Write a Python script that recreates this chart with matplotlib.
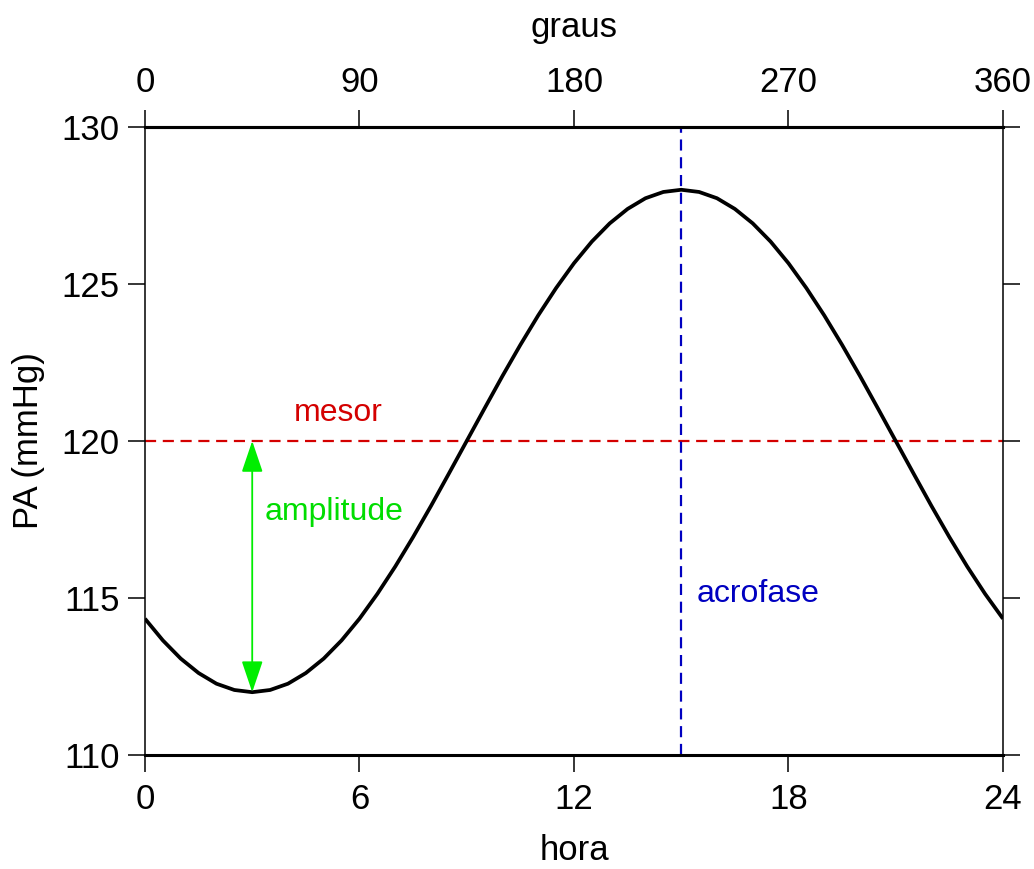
import matplotlib.pyplot as plt

plt.rcParams['font.family'] = ['Liberation Sans', 'DejaVu Sans']

# cosinor model
mesor = 120
amplitude = 8
acrophase = 15  # hour of the peak

# blood pressure every half hour (mmHg)
hours = [i * 0.5 for i in range(49)]
pa = [114.34, 113.65, 113.07, 112.61, 112.27, 112.07, 112.00, 112.07, 112.27,
      112.61, 113.07, 113.65, 114.34, 115.13, 116.00, 116.94, 117.93, 118.96,
      120.00, 121.04, 122.07, 123.06, 124.00, 124.87, 125.66, 126.35, 126.93,
      127.39, 127.73, 127.93, 128.00, 127.93, 127.73, 127.39, 126.93, 126.35,
      125.66, 124.87, 124.00, 123.06, 122.07, 121.04, 120.00, 118.96, 117.93,
      116.94, 116.00, 115.13, 114.34]

hour_ticks = [0, 6, 12, 18, 24]
degree_ticks = [0, 90, 180, 270, 360]
pa_ticks = [110, 115, 120, 125, 130]

fs = 25      # ticks and axis labels
fs_ann = 23  # annotations

fig = plt.figure(figsize=(10.34, 8.69), dpi=100)
ax = fig.add_axes([0.1402, 0.1312, 0.8298, 0.7227])

ax.plot(hours, pa, color='black', lw=2.7, solid_capstyle='butt', zorder=3)
ax.axhline(mesor, color='#d40000', lw=1.6, ls=(0, (5, 3)), zorder=2)
ax.axvline(acrophase, color='#0000c0', lw=1.6, ls=(0, (5, 3)), zorder=2)

# amplitude arrow at the trough
trough = acrophase - 12
ax.annotate('', xy=(trough, mesor - amplitude), xytext=(trough, mesor),
            arrowprops=dict(arrowstyle='<|-|>,head_length=0.65,head_width=0.22',
                            color='#00ee00', lw=1.3,
                            mutation_scale=30, shrinkA=0, shrinkB=0))

ax.text(5.4, 120.9, 'mesor', color='#d40000', fontsize=fs_ann, ha='center', va='center')
ax.text(3.36, 117.74, 'amplitude', color='#00dd00', fontsize=fs_ann, ha='left', va='center')
ax.text(15.44, 115.13, 'acrofase', color='#0000c0', fontsize=fs_ann, ha='left', va='center')

ax.set_xlim(0, 24)
ax.set_ylim(110, 130)
ax.set_xticks(hour_ticks)
ax.set_yticks(pa_ticks)
ax.set_xlabel('hora', fontsize=fs, labelpad=13)
ax.set_ylabel('PA (mmHg)', fontsize=fs, labelpad=12)

ax.tick_params(axis='both', direction='out', length=12, width=1.1,
               labelsize=fs, pad=8)
ax.tick_params(axis='y', right=True, labelright=False, pad=6)

for side in ['left', 'right']:
    ax.spines[side].set_linewidth(1.1)
for side in ['top', 'bottom']:
    ax.spines[side].set_linewidth(2.2)

top = ax.secondary_xaxis('top', functions=(lambda h: h * 15, lambda d: d / 15))
top.set_xticks(degree_ticks)
top.set_xlabel('graus', fontsize=fs, labelpad=21)
top.tick_params(direction='out', length=12, width=1.1, labelsize=fs, pad=8)
top.spines['top'].set_linewidth(2.2)

fig.savefig('out.png', dpi=100, facecolor='white')
